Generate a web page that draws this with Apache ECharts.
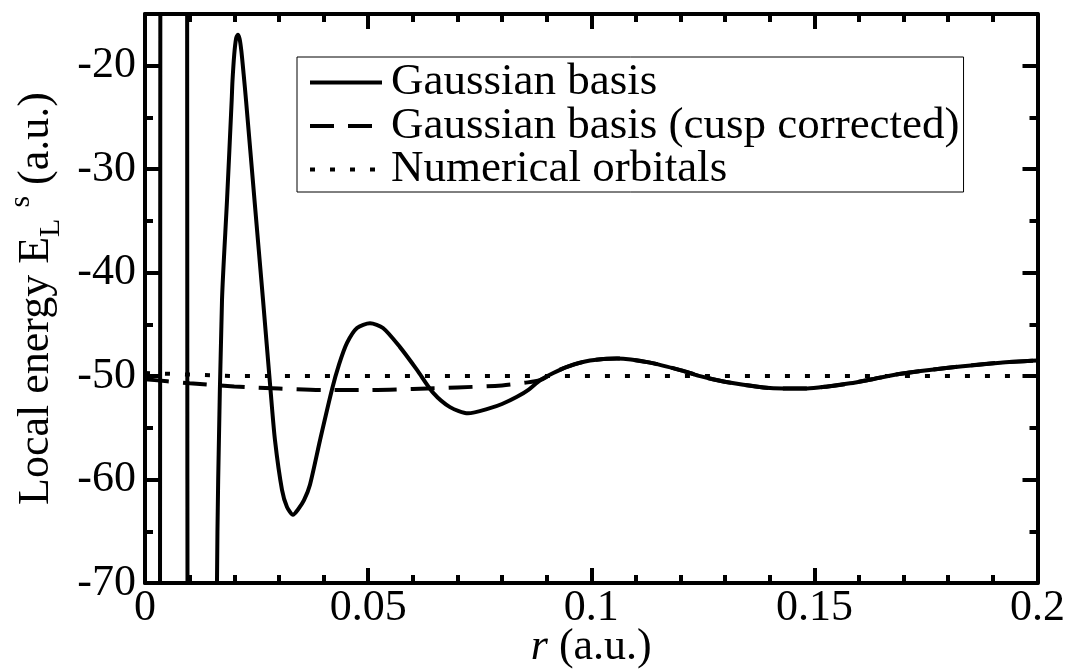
<!DOCTYPE html>
<html>
<head>
<meta charset="utf-8">
<script src="https://cdn.jsdelivr.net/npm/echarts@6/dist/echarts.min.js"></script>
<style>
html,body{margin:0;padding:0;background:#fff;}
#chart{width:1070px;height:671px;}
</style>
</head>
<body>
<div id="chart"></div>
<script>
// ---- data ----
const seriesNames = ['Gaussian basis', 'Gaussian basis (cusp corrected)', 'Numerical orbitals'];

const gaussR = [0, 0.0025, 0.0033, 0.0035, 0.004, 0.006, 0.009, 0.0094, 0.0097, 0.011, 0.014, 0.0155,
  0.01613, 0.0164, 0.01726, 0.01838, 0.01943, 0.0196, 0.0200, 0.0204, 0.0208, 0.0212, 0.0216, 0.0221,
  0.02263, 0.02454, 0.02644, 0.02812, 0.02913, 0.03070, 0.03182, 0.03316, 0.03429, 0.03563, 0.03697,
  0.03922, 0.04190, 0.04347, 0.04527, 0.04751, 0.05042, 0.05333, 0.05714, 0.06095, 0.06454, 0.06835,
  0.07238, 0.07731, 0.0800, 0.08336, 0.0860, 0.08852, 0.0915, 0.09457, 0.09972, 0.10577, 0.1132,
  0.1206, 0.1244, 0.1283, 0.1320, 0.1386, 0.1430, 0.1484, 0.1530, 0.1580, 0.1630, 0.1690, 0.1800,
  0.1917, 0.2000];
const gaussE = [-400, -300, -120, 40, 150, 250, 150, 20, -140, -250, -250, -150,
  -70, -60, -42.6, -33.0, -23.3, -21.5, -18.9, -17.4, -17.0, -17.4, -18.6, -20.8,
  -23.3, -33.0, -42.6, -51.3, -56.2, -61.0, -62.65, -63.4, -62.9, -62.0, -60.5,
  -56.2, -51.3, -48.9, -46.8, -45.35, -44.9, -45.35, -47.2, -49.4, -51.6, -53.0,
  -53.6, -53.1, -52.7, -52.0, -51.3, -50.4, -49.7, -49.1, -48.5, -48.3, -48.7,
  -49.5, -50.0, -50.4, -50.7, -51.1, -51.2, -51.2, -51.0, -50.7, -50.3, -49.8, -49.2,
  -48.7, -48.5];

const cuspR = [0, 0.005, 0.01, 0.02, 0.03, 0.04, 0.05, 0.06, 0.07, 0.08, 0.085, 0.08852,
  0.0915, 0.09457, 0.09972, 0.10577, 0.1132, 0.1206, 0.1244, 0.1283, 0.1320, 0.1386, 0.1430,
  0.1484, 0.1530, 0.1580, 0.1630, 0.1690, 0.1800, 0.1917, 0.2000];
const cuspE = [-50.3, -50.5, -50.7, -51.0, -51.2, -51.35, -51.35, -51.25, -51.1, -50.9, -50.65, -50.4,
  -49.7, -49.1, -48.5, -48.3, -48.7, -49.5, -50.0, -50.4, -50.7, -51.1, -51.2,
  -51.2, -51.0, -50.7, -50.3, -49.8, -49.2, -48.7, -48.5];

const numR = [0, 0.01, 0.02, 0.05, 0.1, 0.15, 0.2];
const numE = [-49.7, -49.85, -50.0, -50.0, -50.0, -50.0, -50.0];

const xTicks = [0, 0.05, 0.1, 0.15, 0.2];
const yTicks = [-70, -60, -50, -40, -30, -20];

// ---- chart ----
const pairs = (xs, ys) => xs.map((x, i) => [x, ys[i]]);
const FONT = "'Liberation Serif', 'Times New Roman', 'DejaVu Serif', serif";
const BLACK = '#000';

const majorAxis = (extra) => Object.assign({
  type: 'value',
  axisLine: { show: true, onZero: false, lineStyle: { color: BLACK, width: 4 } },
  axisTick: { show: true, inside: true, length: 15, lineStyle: { color: BLACK, width: 4 } },
  splitLine: { show: false },
  axisLabel: { show: false }
}, extra);

const gridBox = { left: 145, right: 32.5, top: 14, bottom: 88, containLabel: false, outerBoundsMode: 'none' };

const chart = echarts.init(document.getElementById('chart'), null, { renderer: 'canvas' });
chart.setOption({
  animation: false,
  backgroundColor: '#fff',
  color: [BLACK, BLACK, BLACK],
  textStyle: { fontFamily: FONT },
  grid: [Object.assign({}, gridBox), Object.assign({}, gridBox)],
  legend: {
    data: seriesNames,
    orient: 'vertical',
    left: 297,
    top: 57,
    itemWidth: 72,
    itemHeight: 20,
    itemGap: -1.5,
    padding: [3, 4, 0, 11],
    borderColor: BLACK,
    borderWidth: 1,
    selectedMode: false,
    itemStyle: { opacity: 0 },
    lineStyle: { width: 4, color: BLACK, cap: 'butt' },
    textStyle: { fontFamily: FONT, fontSize: 45, color: BLACK, padding: [0, 0, 0, 4] }
  },
  xAxis: [
    majorAxis({
      gridIndex: 0, position: 'bottom', min: xTicks[0], max: xTicks[xTicks.length - 1], interval: 0.05,
      minorTick: { show: true, splitNumber: 5, length: 8, lineStyle: { color: BLACK, width: 4 } },
      axisLabel: { show: true, fontFamily: FONT, fontSize: 44, color: BLACK, margin: 3 },
      name: '{i|r} (a.u.)',
      nameLocation: 'middle',
      nameGap: 42,
      nameMoveOverlap: false,
      nameTextStyle: { fontFamily: FONT, fontSize: 44, color: BLACK,
        rich: { i: { fontFamily: FONT, fontSize: 44, fontStyle: 'italic', color: BLACK } } }
    }),
    majorAxis({
      gridIndex: 0, position: 'top', min: 0, max: 0.2, interval: 0.05,
      minorTick: { show: true, splitNumber: 5, length: 8, lineStyle: { color: BLACK, width: 4 } }
    }),
    { type: 'value', gridIndex: 1, min: 0, max: 0.2, show: false }
  ],
  yAxis: [
    majorAxis({
      gridIndex: 0, position: 'left', min: yTicks[0], max: -15, interval: 10,
      axisLabel: { show: true, fontFamily: FONT, fontSize: 44, color: BLACK, margin: 9,
        formatter: v => (yTicks.indexOf(v) >= 0 ? String(v) : '') },
      name: 'Local energy E{sub|L} {sup|s} (a.u.)',
      nameLocation: 'middle',
      nameGap: 66,
      nameTextStyle: { fontFamily: FONT, fontSize: 44, color: BLACK, lineHeight: 60,
        rich: {
          sub: { fontFamily: FONT, fontSize: 30, color: BLACK, verticalAlign: 'bottom', lineHeight: 60 },
          sup: { fontFamily: FONT, fontSize: 30, color: BLACK, verticalAlign: 'top', lineHeight: 60 }
        } }
    }),
    majorAxis({ gridIndex: 0, position: 'right', min: -70, max: -15, interval: 10 }),
    majorAxis({ gridIndex: 1, position: 'left', min: -70, max: -15, interval: 5,
      axisLine: { show: false, onZero: false },
      axisTick: { show: true, inside: true, length: 8, lineStyle: { color: BLACK, width: 4 } } }),
    majorAxis({ gridIndex: 1, position: 'right', min: -70, max: -15, interval: 5,
      axisLine: { show: false, onZero: false },
      axisTick: { show: true, inside: true, length: 8, lineStyle: { color: BLACK, width: 4 } } })
  ],
  series: [
    {
      name: seriesNames[2], type: 'line', xAxisIndex: 0, yAxisIndex: 0,
      data: pairs(numR, numE), symbol: 'none', clip: true, z: 2,
      itemStyle: { color: BLACK },
      lineStyle: { color: BLACK, width: 4, type: [5, 15], cap: 'butt' }
    },
    {
      name: seriesNames[1], type: 'line', xAxisIndex: 0, yAxisIndex: 0,
      data: pairs(cuspR, cuspE), symbol: 'none', clip: true, z: 3, smooth: 0.3,
      itemStyle: { color: BLACK },
      lineStyle: { color: BLACK, width: 4, type: [24, 14], cap: 'butt' }
    },
    {
      name: seriesNames[0], type: 'line', xAxisIndex: 0, yAxisIndex: 0,
      data: pairs(gaussR, gaussE), symbol: 'none', clip: true, z: 4,
      smooth: 0.25,
      itemStyle: { color: BLACK },
      lineStyle: { color: BLACK, width: 4, type: 'solid', join: 'round' }
    }
  ]
});
</script>
</body>
</html>
